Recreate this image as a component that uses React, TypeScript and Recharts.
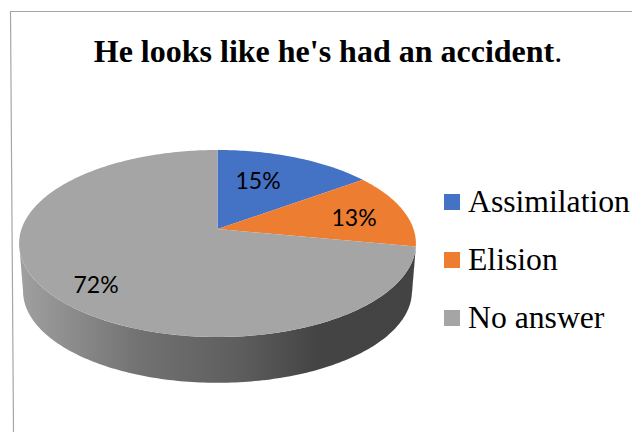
import { Legend, Pie, PieChart } from "recharts"

const categories = ["Assimilation", "Elision", "No answer"]
const shares = [15, 13, 72]
const colors = ["#4472C4", "#ED7D31", "#A5A5A5"]

const sliceData = categories.map((name, i) => ({
  name,
  value: shares[i],
  fill: colors[i],
}))

// where each percentage sits on the tilted disc
const labelSpots: Record<string, [number, number]> = {
  Assimilation: [258, 179.5],
  Elision: [354, 216.5],
  "No answer": [96, 283.5],
}

const CX = 217.5
const CY = 229
const RADIUS = 196
// perspective of the disc: squash of the y axis and how much the near edge grows
const SQUASH = 91.25 / 196
const TILT = 0.155
const DEPTH = 48
const BASE_SCALE = 0.98
// clock angles at which the rim turns away from the viewer
const FRONT_FROM = 98.9
const FRONT_TO = 261.1

function rimPoint(clockDeg: number, scale = 1, drop = 0): [number, number] {
  const a = (clockDeg * Math.PI) / 180
  const u = Math.sin(a)
  const v = Math.cos(a)
  const w = 1 + TILT * v
  return [
    CX + (scale * RADIUS * u) / w,
    CY + drop - (scale * RADIUS * SQUASH * v) / w,
  ]
}

function arcPoints(from: number, to: number, scale = 1, drop = 0) {
  const steps = Math.max(2, Math.ceil(Math.abs(to - from)))
  const pts: string[] = []
  for (let i = 0; i <= steps; i++) {
    const [x, y] = rimPoint(from + ((to - from) * i) / steps, scale, drop)
    pts.push(`${x.toFixed(2)} ${y.toFixed(2)}`)
  }
  return pts
}

function DiscSlice(props: any) {
  const { startAngle, endAngle, fill } = props
  // recharts angles run counter-clockwise from 3 o'clock
  const from = 90 - startAngle
  const to = 90 - endAngle
  const top = `M ${CX} ${CY} L ${arcPoints(from, to).join(" L ")} Z`
  const wallFrom = Math.max(from, FRONT_FROM)
  const wallTo = Math.min(to, FRONT_TO)
  return (
    <g>
      {wallTo > wallFrom && (
        <path
          d={`M ${arcPoints(wallFrom, wallTo).join(" L ")} L ${arcPoints(wallTo, wallFrom, BASE_SCALE, DEPTH).join(" L ")} Z`}
          fill="url(#wallShade)"
        />
      )}
      <path d={top} fill={fill} />
    </g>
  )
}

function SliceLabel(props: any) {
  const [x, y] = labelSpots[props.name]
  return (
    <text
      x={x}
      y={y}
      textAnchor="middle"
      dominantBaseline="central"
      fontFamily="Lato"
      fontSize={23}
      fill="#000"
    >
      {props.value}%
    </text>
  )
}

function LegendList({ payload }: any) {
  return (
    <div>
      {(payload ?? []).map((item: any) => (
        <div
          key={item.value}
          style={{ display: "flex", alignItems: "center", height: 58 }}
        >
          <span
            style={{
              width: 16,
              height: 16,
              marginRight: 8,
              background: item.color,
            }}
          />
          <span
            style={{
              fontFamily: "Liberation Serif",
              fontSize: 31.7,
              color: "#000",
              whiteSpace: "nowrap",
            }}
          >
            {item.value}
          </span>
        </div>
      ))}
    </div>
  )
}

export default function App() {
  return (
    <div
      style={{
        position: "absolute",
        left: 0,
        top: 0,
        width: 632,
        height: 432,
        background: "#fff",
      }}
    >
      <PieChart
        width={632}
        height={432}
        margin={{ top: 0, right: 0, bottom: 0, left: 0 }}
      >
        <defs>
          <linearGradient
            id="wallShade"
            gradientUnits="userSpaceOnUse"
            x1="20"
            y1="0"
            x2="416"
            y2="0"
          >
            <stop offset="0%" stopColor="#a0a0a0" />
            <stop offset="30%" stopColor="#727272" />
            <stop offset="55%" stopColor="#5e5e5e" />
            <stop offset="75%" stopColor="#444444" />
            <stop offset="100%" stopColor="#434343" />
          </linearGradient>
        </defs>
        <path
          d="M 632 11.5 L 10.5 11.5 L 13.5 432"
          fill="none"
          stroke="#a6a6a6"
          strokeWidth={1.2}
        />
        <text
          x={328}
          y={62}
          textAnchor="middle"
          fontFamily="Liberation Serif"
          fontSize={32}
          fill="#000"
        >
          <tspan fontWeight="bold">He looks like he's had an accident</tspan>
          <tspan>.</tspan>
        </text>
        <Pie
          data={sliceData}
          dataKey="value"
          nameKey="name"
          cx={CX}
          cy={CY}
          outerRadius={RADIUS}
          startAngle={90}
          endAngle={-270}
          stroke="none"
          shape={DiscSlice}
          label={SliceLabel}
          labelLine={false}
          isAnimationActive={false}
        />
        <Legend
          layout="vertical"
          content={LegendList}
          wrapperStyle={{ left: 444, top: 173, width: 188, bottom: "auto" }}
        />
      </PieChart>
    </div>
  )
}
